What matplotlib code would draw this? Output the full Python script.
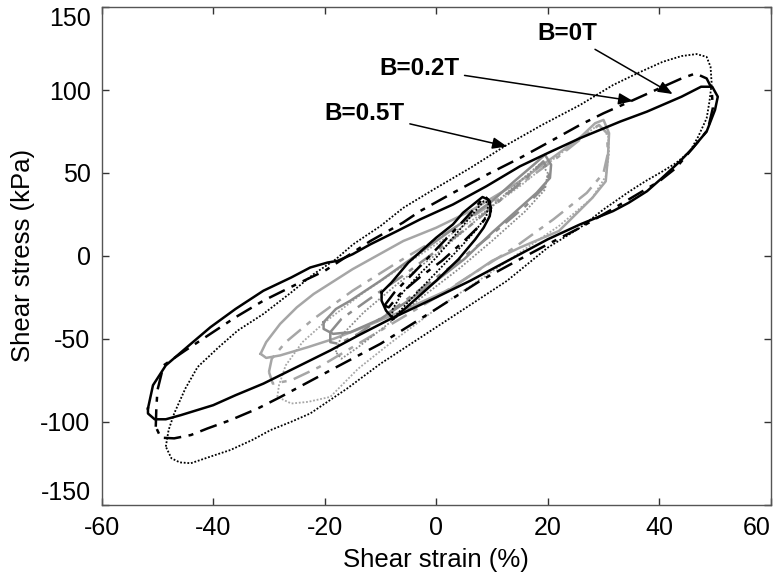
import matplotlib
matplotlib.use("Agg")
import matplotlib.pyplot as plt

plt.rcParams['font.family'] = ['Liberation Sans', 'DejaVu Sans']
plt.rcParams['axes.unicode_minus'] = False

# ---- loops: (strain %, stress kPa) going round each loop ----
# large loops, black, ~ +/-50 % strain
strain_0T = [-51.7, -50.8, -48.5, -44, -40.5, -36, -31, -26, -22.6, -19.5, -17.7, -15, -11.8, -7, -2.9, 3, 9, 15, 20,
             25.8, 33, 37.8, 44, 47.5, 49.5, 50.5, 50, 48.5, 46, 43.7, 40.5, 37.8, 34.5, 31.7, 25.8, 20, 15, 10, 6.1, 0,
             -8.2, -14, -19, -25, -31, -36, -40, -45.8, -48.5, -50.5, -51.7]
stress_0T = [-92, -78, -66, -53, -43, -32, -21, -13, -7, -4, -3, 1, 7, 15, 22, 31, 42, 54, 62,
             71, 81, 87, 96, 102, 102, 96, 88, 75, 65, 57, 47, 39, 32, 27, 19, 10, 1, -8, -15, -25,
             -38, -48, -57, -67, -77, -84, -90, -96, -98.5, -98.5, -95]

strain_02T = [-50.3, -50.2, -50, -48.9, -45, -40.5, -36, -31, -25, -20, -11.8, -6, -2.9, 3, 9.1, 15, 19.9, 25.8, 30,
              34.7, 40, 44, 46.5, 48.5, 49.4, 49.6, 48.7, 46, 43, 40, 36, 32, 25.8, 20, 15, 7.9, 0, -10, -19, -27.9,
              -32, -36.9, -41, -44, -47, -49.4]
stress_02T = [-103, -92, -81, -66, -57, -47, -37, -27, -17, -9, 9, 20, 27, 38, 49, 59, 68, 79, 86,
              93, 101, 107, 110, 107, 101, 89, 76, 65, 53, 45, 37, 29, 17, 7, -2, -15, -32, -53, -69, -85,
              -92, -99, -104, -108, -110, -109.6]

strain_05T = [-48.5, -48, -47, -45, -42.8, -39, -35.6, -31, -26, -22, -18, -14.9, -10, -5.9, 0, 6.1, 12.7, 19, 25.8,
              31.7, 36, 40.6, 44, 46.7, 48.5, 49.2, 49.4, 49, 48.5, 47, 45.5, 43, 40.6, 37.5, 34.7, 30, 25.8, 20,
              12.7, 5, 0, -5, -10, -16, -22.6, -26, -29.7, -33, -36.9, -40.5, -44, -46, -47.5]
stress_05T = [-115, -105, -95, -80, -67, -55, -45, -35, -22, -11, -2, 7, 18, 29, 41, 53, 67, 79, 91,
              103, 110, 117, 120.5, 121.7, 120, 114, 104, 93, 83, 72, 63, 56, 51, 45, 39, 28, 17, 5,
              -15, -32, -43, -54, -65, -80, -95, -100, -105, -111, -117, -121, -125, -124.5, -122]

# small loops, black, ~ +/-10 % strain
strain_s_0T = [-9.8, -8, -5, -2, 0, 3, 4.8, 7, 8.3, 9.3, 9.8, 9.6, 8.5, 7, 4, 0, -4, -7.7, -9, -9.8]
stress_s_0T = [-22, -16, -4, 5, 11, 19, 26, 32, 35.5, 34, 29, 24, 17, 10, -2, -15, -27, -38, -33, -27]
strain_s_02T = [-9.3, -7.5, -4, 0, 4, 7, 8.7, 9.6, 9.8, 8, 5, 1, -3, -6.5, -8.5]
stress_s_02T = [-30, -22, -10, 4, 18, 29, 36, 33, 27, 19, 9, -3, -13, -23, -31]
strain_s_05T = [-8, -7.8, -6, -3, 0, 3, 6, 8.5, 9.4, 9, 7, 4, 0, -4, -7]
stress_s_05T = [-39, -32, -22, -11, -1, 11, 23, 33, 32, 24, 15, 4, -10, -24, -35]

# gray loops ~ +/-20 % strain
strain_m_0T = [-20.2, -18, -15.4, -10, -5, 0, 5, 10, 14, 17.5, 19.5, 20.6, 20.4, 18, 15, 10, 5, 0, -5, -10,
               -15.4, -18.5, -20.2]
stress_m_0T = [-40, -32, -27, -15, -3, 9, 21, 33, 45, 55, 61, 55, 47, 38, 29, 14, -2, -15, -27, -38,
               -46, -47, -44]
strain_m_02T = [-19, -17, -12, -6, 0, 6, 12, 16.5, 19.2, 20.3, 19.5, 16, 10, 4, -2, -8, -14, -17.5, -19]
stress_m_02T = [-46, -38, -26, -12, 3, 18, 35, 48, 57, 50, 42, 30, 13, -3, -18, -33, -47, -53, -52]
strain_m_05T = [-18, -17, -13, -7, 0, 6, 12, 16, 18.8, 20, 19.5, 16, 10, 4, -3, -9, -14, -17]
stress_m_05T = [-58, -48, -34, -17, 1, 18, 36, 48, 56, 50, 40, 27, 9, -8, -26, -42, -55, -62]

# gray loops ~ +/-30 % strain
strain_l_0T = [-31.5, -30.5, -28, -25, -22, -15, -5.9, 0, 6.1, 15, 22, 26, 28.5, 30, 31, 30.8, 30.4, 28, 22, 15,
               10, 2.5, -8, -13, -18.4, -23, -28, -30.5]
stress_l_0T = [-59, -52, -41, -31, -23, -8, 9, 17, 27, 45, 62, 72, 80, 82, 74, 60, 45, 35, 15, 5,
               -3, -20, -36, -43, -50, -55, -60, -61.5]
strain_l_02T = [-30, -29.5, -27, -22, -15, -7, 0, 8, 15, 22, 26.5, 29.2, 30.6, 30.8, 30, 27, 21, 14, 6, 0, -8,
                -15, -21, -26, -29.3]
stress_l_02T = [-70, -62, -52, -38, -21, -4, 10, 27, 43, 60, 72, 79, 74, 62, 50, 38, 22, 5, -12, -25, -41,
                -55, -67, -75, -77]
strain_l_05T = [-28.5, -28.2, -27, -24, -20, -13, -5, 0, 8, 15, 22, 26, 29, 30.8, 31, 30.4, 28, 22, 15, 8, 0,
                -8, -14, -19, -23, -26]
stress_l_05T = [-85, -78, -66, -52, -40, -22, -4, 7, 25, 42, 61, 71, 79, 74, 62, 48, 35, 18, 2, -14, -32,
                -52, -68, -85, -88, -89]

labels = ['B=0T', 'B=0.2T', 'B=0.5T']
label_xy = [(23.6, 134), (-3.1, 113), (-12.9, 86)]
arrow_xy = [(42.4, 97.6), (35.3, 93.4), (12.7, 66)]

x_ticks = [-60, -40, -20, 0, 20, 40, 60]
y_ticks = [-150, -100, -50, 0, 50, 100, 150]

solid = dict(linestyle='-', linewidth=1.8)
dashdot = dict(linestyle=(0, (7, 3, 2, 3)), linewidth=1.8)
dotted = dict(linestyle=(0, (1, 1)), linewidth=1.3)


def draw_loop(ax, xs, ys, color, style):
    # close the loop back to the first point
    ax.plot(list(xs) + [xs[0]], list(ys) + [ys[0]], color=color, **style)


fig = plt.figure(figsize=(7.78, 5.84), dpi=100)
ax = fig.add_axes([0.1307, 0.1358, 0.860, 0.852])

light_gray = '#a6a6a6'
mid_gray = '#8c8c8c'

draw_loop(ax, strain_l_0T, stress_l_0T, light_gray, solid)
draw_loop(ax, strain_l_02T, stress_l_02T, light_gray, dashdot)
draw_loop(ax, strain_l_05T, stress_l_05T, light_gray, dotted)
draw_loop(ax, strain_m_0T, stress_m_0T, mid_gray, solid)
draw_loop(ax, strain_m_02T, stress_m_02T, mid_gray, dashdot)
draw_loop(ax, strain_m_05T, stress_m_05T, mid_gray, dotted)

draw_loop(ax, strain_s_0T, stress_s_0T, 'black', solid)
draw_loop(ax, strain_s_02T, stress_s_02T, 'black', dashdot)
draw_loop(ax, strain_s_05T, stress_s_05T, 'black', dotted)
draw_loop(ax, strain_0T, stress_0T, 'black', solid)
draw_loop(ax, strain_02T, stress_02T, 'black', dashdot)
draw_loop(ax, strain_05T, stress_05T, 'black', dotted)

for lab, txy, axy in zip(labels, label_xy, arrow_xy):
    ax.annotate(lab, xy=axy, xytext=txy, ha='center', va='center',
                fontsize=17.5, fontweight='bold',
                arrowprops=dict(arrowstyle='-|>,head_length=0.5,head_width=0.2',
                                color='black', lw=1.1, shrinkA=2, shrinkB=0))

ax.set_xlim(-60, 60)
ax.set_ylim(-150, 150)
ax.set_xticks(x_ticks)
ax.set_yticks(y_ticks)
ax.tick_params(direction='in', length=5, width=1, top=True, right=True,
               labelsize=18, pad=8, colors='#333333', labelcolor='black')
for sp in ax.spines.values():
    sp.set_color('#555555')
    sp.set_linewidth(1.0)

ax.set_xlabel('Shear strain (%)', fontsize=18.5, labelpad=6)
ax.set_ylabel('Shear stress (kPa)', fontsize=18.5, labelpad=4)

# end labels sit inside the frame, as in the original
ylabs = ax.get_yticklabels()
ylabs[0].set_va('bottom')
ylabs[-1].set_va('top')
xlabs = ax.get_xticklabels()
xlabs[-1].set_ha('right')

plt.savefig('out.png', dpi=100)
